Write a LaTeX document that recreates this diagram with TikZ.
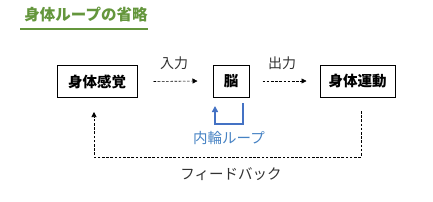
\documentclass[tikz,border=0pt]{standalone}
\usepackage{fontspec}
\setmainfont{Noto Sans CJK JP}
\usetikzlibrary{arrows.meta,calc}
\definecolor{titlegreen}{RGB}{100,150,60}
\definecolor{loopblue}{RGB}{68,114,196}
\definecolor{labblue}{RGB}{70,130,195}
\definecolor{labgray}{RGB}{50,50,50}
\tikzset{
  x=1pt,y=1pt,
  box/.style={draw,line width=1pt,minimum height=32pt,inner sep=0pt,font=\fontsize{14.5}{15}\selectfont\bfseries},
  lab/.style={font=\fontsize{14}{15}\selectfont,text=labgray,inner sep=0pt},
  dashconn/.style={line width=0.6pt,dash pattern=on 2.6pt off 1.6pt,-{Triangle[length=5pt,width=5pt]}},
}
\begin{document}
\begin{tikzpicture}
\useasboundingbox (0,0) rectangle (433,-201);
\node[font=\fontsize{15.5}{16}\selectfont\bfseries,text=titlegreen,inner sep=0pt] (title) at (86,-15) {身体ループの省略};
\coordinate (ulA) at (20,-29);
\coordinate (ulB) at (148,-29);
\draw[titlegreen,line width=1.1pt] (ulA) -- (ulB);

\node[box,minimum width=80pt] (s1) at (97,-81.5) {身体感覚};
\node[box,minimum width=36pt] (br) at (231,-81) {脳};
\node[box,minimum width=75pt] (s3) at (357.5,-81) {身体運動};

\draw[dashconn] ([xshift=16pt]s1.east) -- ([xshift=-15pt]br.west);
\draw[dashconn] ([xshift=13pt]br.east) -- ([xshift=-13pt]s3.west);
\node[lab] (in) at (174,-63) {入力};
\node[lab] (out) at (282,-63) {出力};

\coordinate (lr) at (243,-103);
\coordinate (lrb) at (243,-124);
\coordinate (llb) at (215,-124);
\coordinate (ll) at (215,-106);
\draw[loopblue,line width=1.6pt,-{Triangle[length=6pt,width=6pt]}] (lr) -- (lrb) -- (llb) -- (ll);
\node[font=\fontsize{14.5}{15}\selectfont,text=labblue,inner sep=0pt] (inner) at (229,-138) {内輪ループ};

\coordinate (fr) at (361,-111);
\coordinate (frb) at (361,-157);
\coordinate (flb) at (94,-157);
\coordinate (fl) at (94,-112);
\draw[dashconn] (fr) -- (frb) -- (flb) -- (fl);
\node[lab,font=\fontsize{14.5}{15}\selectfont] (fb) at (231,-174) {フィードバック};
\end{tikzpicture}
\end{document}
